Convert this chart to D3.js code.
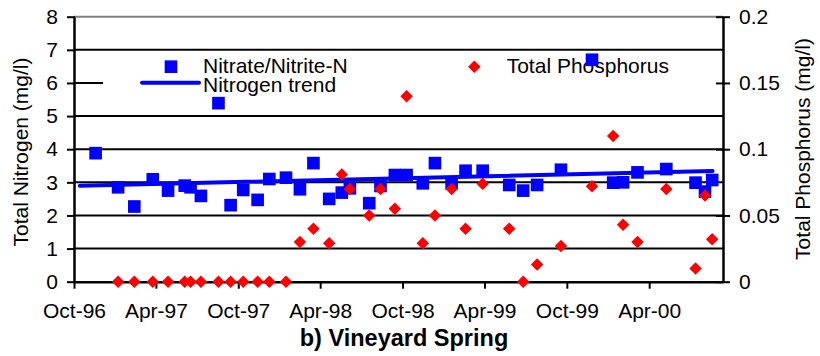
<!DOCTYPE html>
<html>
<head>
<meta charset="utf-8">
<script src="https://cdn.jsdelivr.net/npm/d3@7/dist/d3.min.js"></script>
<style>
  html, body { margin: 0; padding: 0; background: #fff; }
  svg { display: block; }
  text { font-family: "Liberation Sans", Arial, sans-serif; fill: #000; }
</style>
</head>
<body>
<svg id="chart" width="820" height="356"></svg>
<script>
// Sampling dates at Vineyard Spring
const sampleDates = [
  "1996-11-18","1997-01-07","1997-02-12","1997-03-25","1997-04-28","1997-06-04","1997-06-17",
  "1997-07-10","1997-08-18","1997-09-14","1997-10-12","1997-11-13","1997-12-09","1998-01-15",
  "1998-02-15","1998-03-17","1998-04-21","1998-05-19","1998-06-06","1998-07-19","1998-08-13",
  "1998-09-14","1998-10-10","1998-11-15","1998-12-12","1999-01-18","1999-02-18","1999-03-28",
  "1999-05-26","1999-06-26","1999-07-27","1999-09-18","1999-11-26","2000-01-12","2000-02-03",
  "2000-03-06","2000-05-09","2000-07-13","2000-08-03","2000-08-19"
];
// Nitrate/Nitrite-N (mg/l), left axis
const nitrate = [
  3.88, 2.85, 2.27, 3.09, 2.75, 2.90, 2.85, 2.59, 5.39, 2.31, 2.77, 2.47, 3.10, 3.14,
  2.79, 3.58, 2.50, 2.69, 2.82, 2.37, 2.89, 3.22, 3.22, 2.97, 3.58, 2.97, 3.35, 3.35,
  2.92, 2.75, 2.92, 3.38, 6.70, 2.99, 3.00, 3.30, 3.40, 2.99, 2.72, 3.07
];
// Total phosphorus (mg/l), right axis
const phosphorus = [
  null, 0, 0, 0, 0, 0, 0, 0, 0, 0, 0, 0, 0, 0,
  0.030, 0.040, 0.029, 0.081, 0.070, 0.050, 0.070, 0.055, 0.140, 0.029, 0.050, 0.070, 0.040, 0.074,
  0.040, 0.000, 0.013, 0.027, 0.072, 0.110, 0.043, 0.030, 0.070, 0.010, 0.065, 0.032
];
// Linear nitrogen trend, end points
const trendDates = ["1996-10-14", "2000-08-20"];
const trendValues = [2.90, 3.34];
// Axis ticks
const xTickDates = ["1996-10-01","1997-04-01","1997-10-01","1998-04-01","1998-10-01","1999-04-01","1999-10-01","2000-04-01"];
const nTicks = [0, 1, 2, 3, 4, 5, 6, 7, 8];
const pTicks = [0, 0.05, 0.1, 0.15, 0.2];
const xDomain = ["1996-10-01", "2000-09-12"];

const parse = d3.timeParse("%Y-%m-%d");
const svg = d3.select("#chart");

const plotL = 74, plotR = 723, plotT = 16.7, plotB = 281.7;
const FS = 21;
const FONT = "Liberation Sans, Arial, sans-serif";

const x = d3.scaleTime().domain(xDomain.map(parse)).range([plotL, plotR]);
const yN = d3.scaleLinear().domain([0, 8]).range([plotB, plotT]);
const yP = d3.scaleLinear().domain([0, 0.2]).range([plotB, plotT]);

// Horizontal gridlines
svg.append("g").selectAll("line").data(nTicks.filter(d => d > 0)).join("line")
  .attr("x1", plotL).attr("x2", plotR)
  .attr("y1", d => yN(d)).attr("y2", d => yN(d))
  .attr("stroke", d => d === 8 ? "#808080" : "#000")
  .attr("stroke-width", 2);

// Legend background
svg.append("rect").attr("x", 103).attr("y", 52).attr("width", plotR - 1 - 103).attr("height", 63)
  .attr("fill", "#fff");

// Legend contents
const lg = svg.append("g");
lg.append("path").attr("d", d3.symbol(d3.symbolSquare, 160)())
  .attr("transform", "translate(171,66.7)").attr("fill", "#0000ff");
lg.append("line").attr("x1", 142).attr("x2", 199).attr("y1", 82.7).attr("y2", 82.7)
  .attr("stroke", "#0000ff").attr("stroke-width", 4).attr("stroke-linecap", "round");
lg.append("text").attr("x", 203).attr("y", 73).attr("font-size", FS).text("Nitrate/Nitrite-N");
lg.append("text").attr("x", 203).attr("y", 91.5).attr("font-size", FS).text("Nitrogen trend");
lg.append("path").attr("d", d3.symbol(d3.symbolSquare, 78)())
  .attr("transform", "translate(474.3,66.7) rotate(45)").attr("fill", "#ff0000");
lg.append("text").attr("x", 506.7).attr("y", 73).attr("font-size", FS).text("Total Phosphorus");

// Left axis
const axL = svg.append("g").attr("transform", `translate(${plotL},0)`)
  .call(d3.axisLeft(yN).tickValues(nTicks).tickSizeInner(7).tickSizeOuter(0).tickPadding(9).tickFormat(d3.format("d")));
axL.select(".domain").attr("stroke", "#000").attr("stroke-width", 2.5);
axL.selectAll(".tick line").attr("stroke", "#000").attr("stroke-width", 2).attr("x2", -7).attr("x1", 1);
axL.selectAll(".tick text").attr("font-size", FS).attr("font-family", FONT).attr("fill", "#000");

// Right axis
const axR = svg.append("g").attr("transform", `translate(${plotR},0)`)
  .call(d3.axisRight(yP).tickValues(pTicks).tickSizeInner(7).tickSizeOuter(0).tickPadding(9).tickFormat(d => String(d)));
axR.select(".domain").attr("stroke", "#000").attr("stroke-width", 2.5);
axR.selectAll(".tick line").attr("stroke", "#000").attr("stroke-width", 2).attr("x1", -7).attr("x2", 7);
axR.selectAll(".tick text").attr("font-size", FS).attr("font-family", FONT).attr("fill", "#000").attr("x", 16);

// Bottom axis
const axB = svg.append("g").attr("transform", `translate(0,${plotB})`)
  .call(d3.axisBottom(x).tickValues(xTickDates.map(parse)).tickSizeInner(7).tickSizeOuter(0).tickFormat(d3.timeFormat("%b-%y")));
axB.select(".domain").attr("stroke", "#000").attr("stroke-width", 2.5);
axB.selectAll(".tick line").attr("stroke", "#000").attr("stroke-width", 2);
axB.selectAll(".tick text").attr("font-size", FS).attr("font-family", FONT).attr("fill", "#000")
  .attr("y", 36.8).attr("dy", 0);

// Axis titles
svg.append("text").attr("transform", "translate(28,152) rotate(-90)")
  .attr("text-anchor", "middle").attr("font-size", FS).text("Total Nitrogen (mg/l)");
svg.append("text").attr("transform", "translate(810,149) rotate(-90)")
  .attr("text-anchor", "middle").attr("font-size", FS).text("Total Phosphorus (mg/l)");
svg.append("text").attr("x", 404).attr("y", 346).attr("text-anchor", "middle")
  .attr("font-size", 23.5).attr("font-weight", "bold").text("b) Vineyard Spring");

// Nitrogen trend line
svg.append("path")
  .datum(trendDates.map((d, i) => ({ date: parse(d), v: trendValues[i] })))
  .attr("d", d3.line().x(d => x(d.date)).y(d => yN(d.v)))
  .attr("fill", "none").attr("stroke", "#0000ff").attr("stroke-width", 4).attr("stroke-linecap", "round");

// Nitrate/Nitrite-N squares
svg.append("g").selectAll("path")
  .data(sampleDates.map((d, i) => ({ date: parse(d), v: nitrate[i] })))
  .join("path")
  .attr("d", d3.symbol(d3.symbolSquare, 160)())
  .attr("transform", d => `translate(${x(d.date)},${yN(d.v)})`)
  .attr("fill", "#0000ff");

// Total phosphorus diamonds
svg.append("g").selectAll("path")
  .data(sampleDates.map((d, i) => ({ date: parse(d), v: phosphorus[i] })).filter(d => d.v !== null))
  .join("path")
  .attr("d", d3.symbol(d3.symbolSquare, 78)())
  .attr("transform", d => `translate(${x(d.date)},${yP(d.v)}) rotate(45)`)
  .attr("fill", "#ff0000");
</script>
</body>
</html>
